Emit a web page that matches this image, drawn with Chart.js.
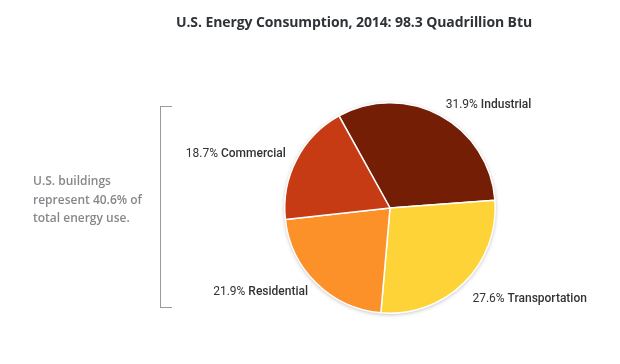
<!DOCTYPE html>
<html>
<head>
<meta charset="utf-8">
<script src="https://cdn.jsdelivr.net/npm/chart.js@4.4.1/dist/chart.umd.min.js"></script>
<style>
    html, body { margin: 0; padding: 0; background: #fff; }
    .wrap { position: relative; width: 620px; height: 364px; font-family: "Open Sans", sans-serif; }
    #energyChart { position: absolute; left: 0; top: 0; }
    .title {
        position: absolute; left: 0; top: 12px; width: 708px; text-align: center;
        font-size: 14px; font-weight: 700; color: #2f3338; letter-spacing: -0.1px;
    }
    .note {
        position: absolute; left: 33px; top: 172px; width: 125px;
        font-size: 12px; font-weight: 600; color: #85878a; line-height: 18.5px;
    }
    .bracket {
        position: absolute; left: 160px; top: 106px; width: 11px; height: 200px;
        border: 1px solid #9a9a9a; border-right: none;
    }
</style>
</head>
<body>
<div class="wrap">
    <canvas id="energyChart" width="620" height="364"></canvas>
    <div class="title">U.S. Energy Consumption, 2014: 98.3 Quadrillion Btu</div>
    <div class="bracket"></div>
    <div class="note">U.S. buildings<br>represent 40.6% of<br>total energy use.</div>
</div>
<script>
    // 데이터
    const sectors = ['Industrial', 'Transportation', 'Residential', 'Commercial'];
    const shares = [31.9, 27.6, 21.9, 18.7];
    const sectorColors = ['#731e05', '#fdd338', '#fc9129', '#c63b14'];

    // 파이 뒤 그림자
    const shadowPlugin = {
        id: 'pieShadow',
        beforeDatasetsDraw(chart) {
            const arc = chart.getDatasetMeta(0).data[0];
            if (!arc) return;
            const ctx = chart.ctx;
            ctx.save();
            ctx.shadowColor = 'rgba(0,0,0,0.3)';
            ctx.shadowBlur = 4;
            ctx.shadowOffsetY = 1;
            ctx.fillStyle = '#fff';
            ctx.beginPath();
            ctx.arc(arc.x, arc.y, arc.outerRadius, 0, Math.PI * 2);
            ctx.fill();
            ctx.restore();
        }
    };

    // 조각 라벨
    const labelPlugin = {
        id: 'sliceLabels',
        afterDatasetsDraw(chart) {
            const ctx = chart.ctx;
            const meta = chart.getDatasetMeta(0);
            const numFont = '400 12px Roboto';
            const nameFont = '500 12px Roboto';
            meta.data.forEach((arc, i) => {
                const mid = (arc.startAngle + arc.endAngle) / 2;
                const r = arc.outerRadius + 12;
                const x = arc.x + Math.cos(mid) * r;
                let y = arc.y + Math.sin(mid) * r;
                if (x >= arc.x && y > arc.y) y += 8;
                const pct = shares[i].toFixed(1) + '% ';
                ctx.save();
                ctx.textBaseline = 'middle';
                ctx.font = numFont;
                const w1 = ctx.measureText(pct).width;
                ctx.font = nameFont;
                const w2 = ctx.measureText(sectors[i]).width;
                let startX = x >= arc.x ? x : x - w1 - w2;
                ctx.fillStyle = '#333';
                ctx.textAlign = 'left';
                ctx.font = numFont;
                ctx.fillText(pct, startX, y);
                ctx.font = nameFont;
                ctx.fillText(sectors[i], startX + w1, y);
                ctx.restore();
            });
        }
    };

    new Chart(document.getElementById('energyChart'), {
        type: 'pie',
        data: {
            labels: sectors,
            datasets: [{
                data: shares,
                backgroundColor: sectorColors,
                borderColor: '#ffffff',
                borderWidth: 1.5
            }]
        },
        options: {
            responsive: false,
            animation: false,
            rotation: -29,
            layout: { padding: { left: 284, right: 124, top: 102, bottom: 50 } },
            plugins: {
                legend: { display: false },
                tooltip: { enabled: false }
            }
        },
        plugins: [shadowPlugin, labelPlugin]
    });
</script>
</body>
</html>
